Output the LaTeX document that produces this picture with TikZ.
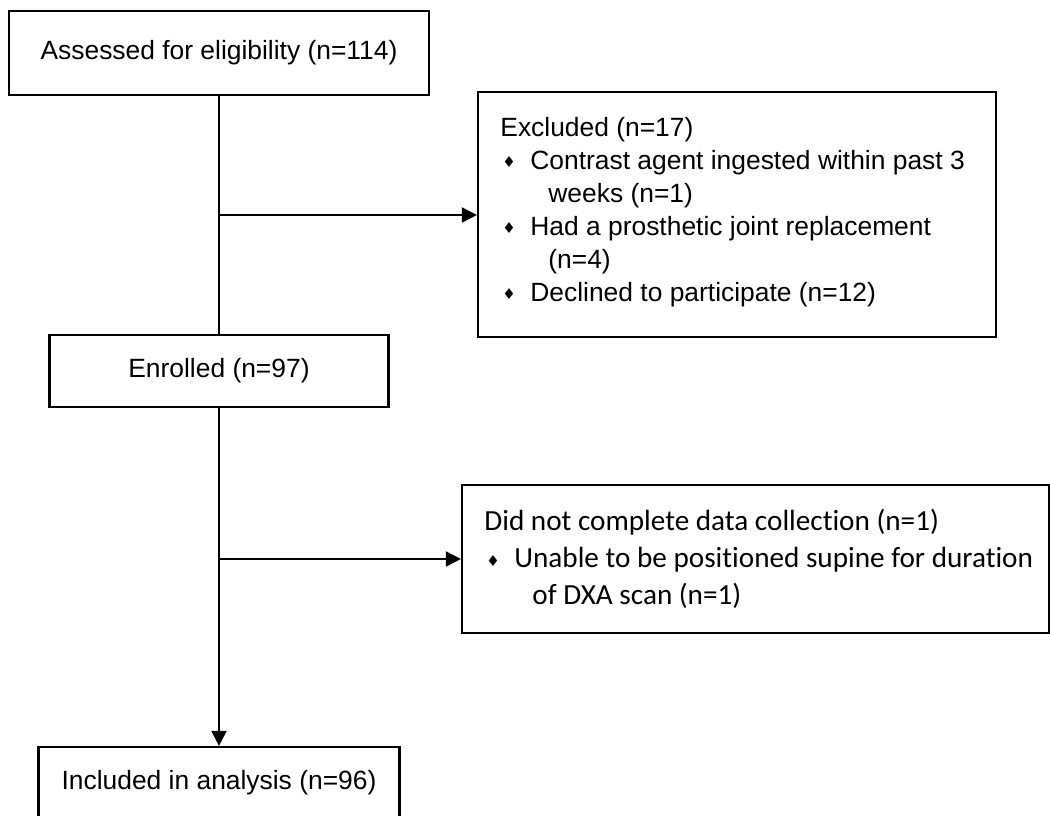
\documentclass[tikz,border=0pt]{standalone}
\usepackage{fontspec}
\setmainfont{Liberation Sans}
\newfontfamily\calibri[Ligatures=NoCommon]{Carlito}
\newfontfamily\dejavu{DejaVu Sans}
\usetikzlibrary{arrows.meta}
\newcommand{\dia}{\makebox[15pt][l]{\hspace{1pt}\raisebox{0.8pt}{\dejavu\fontsize{7.5}{7.5}\selectfont\char"2666}}}

\begin{document}
\begin{tikzpicture}[x=0.5pt, y=-0.5pt,
    box/.style={draw, line width=1.1pt, inner sep=0pt},
    arr/.style={line width=1pt, -{Triangle[length=7.5pt,width=7.5pt]}},
    lin/.style={line width=1pt},
    ftext/.style={inner sep=0pt, align=left, anchor=west},
    arial/.style={font=\fontsize{13.2}{16.5}\selectfont},
    calib/.style={font=\calibri\fontsize{14.6}{18.5}\selectfont}]
    \useasboundingbox (0,0) rectangle (1050,815);
    \clip (0,0) rectangle (1050,815);

    \node[box, arial, minimum width=210pt, minimum height=42pt] (assess) at (219,53) {Assessed for eligibility (n=114)};
    \node[box, minimum width=259pt, minimum height=122.5pt] (excl) at (737,214.5) {};
    \node[ftext, arial] (excltext) at (500,212) {Excluded (n=17)\\
        \dia Contrast agent ingested within past 3\\
        \hspace*{24pt}weeks (n=1)\\
        \dia Had a prosthetic joint replacement\\
        \hspace*{24pt}(n=4)\\
        \dia Declined to participate (n=12)};
    \node[box, arial, minimum width=169.5pt, minimum height=36pt] (enrol) at (219,371) {Enrolled (n=97)};
    \node[box, minimum width=293.5pt, minimum height=74pt] (dnc) at (755.5,559) {};
    \node[ftext, calib] (dnctext) at (484,559) {Did not complete data collection (n=1)\\
        \dia Unable to be positioned supine for duration\\
        \hspace*{24pt}of DXA scan (n=1)};
    \node[box, arial, minimum width=180.5pt, minimum height=36pt] (incl) at (219,783) {Included in analysis (n=96)};

    \coordinate (j1) at (219,215);
    \coordinate (j2) at (219,559);
    \draw[lin] (assess.south) -- (enrol.north);
    \draw[arr] (j1) -- (j1 -| excl.west);
    \draw[arr] (enrol.south) -- (incl.north);
    \draw[arr] (j2) -- (j2 -| dnc.west);
\end{tikzpicture}
\end{document}
